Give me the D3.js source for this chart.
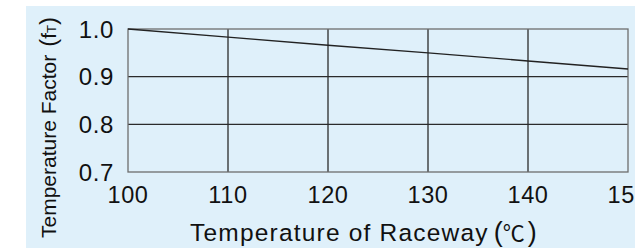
<!DOCTYPE html>
<html>
<head>
<meta charset="utf-8">
<script src="https://cdn.jsdelivr.net/npm/d3@7"></script>
<style>
  html, body { margin: 0; padding: 0; background: #fff; }
  svg { display: block; }
</style>
</head>
<body>
<svg id="chart" width="635" height="248"></svg>
<script>
// data
var temps = [100, 110, 120, 130, 140, 150];
var factors = [1.0, 0.983, 0.966, 0.950, 0.933, 0.916];
var xTicks = [100, 110, 120, 130, 140, 150];
var yTicks = [0.7, 0.8, 0.9, 1.0];
var yTickLabels = ["0.7", "0.8", "0.9", "1.0"];

var svg = d3.select("#chart"),
    width = +svg.attr("width"),
    height = +svg.attr("height"),
    plotLeft = 128, plotRight = 628, plotTop = 29, plotBottom = 172,
    font = "'Liberation Sans', Arial, Helvetica, sans-serif";

var x = d3.scaleLinear().domain([100, 150]).range([plotLeft, plotRight]);
var y = d3.scaleLinear().domain([0.7, 1.0]).range([plotBottom, plotTop]);

// light blue panel
svg.append("rect")
    .attr("x", 26).attr("y", 6)
    .attr("width", width - 26).attr("height", height - 6)
    .attr("fill", "#dff0fa");

// grid lines
svg.append("g").selectAll("line")
    .data(xTicks.slice(1, -1))
    .enter().append("line")
    .attr("x1", function (d) { return x(d); })
    .attr("x2", function (d) { return x(d); })
    .attr("y1", plotTop).attr("y2", plotBottom)
    .attr("stroke", "#2b2b2b").attr("stroke-width", 1.3);

svg.append("g").selectAll("line")
    .data(yTicks.slice(1, -1))
    .enter().append("line")
    .attr("y1", function (d) { return y(d); })
    .attr("y2", function (d) { return y(d); })
    .attr("x1", plotLeft).attr("x2", plotRight)
    .attr("stroke", "#2b2b2b").attr("stroke-width", 1.3);

// frame
svg.append("rect")
    .attr("x", plotLeft).attr("y", plotTop)
    .attr("width", plotRight - plotLeft).attr("height", plotBottom - plotTop)
    .attr("fill", "none")
    .attr("stroke", "#6e6e6e").attr("stroke-width", 1.3);

// the curve
var line = d3.line()
    .x(function (d, i) { return x(temps[i]); })
    .y(function (d) { return y(d); });

svg.append("path")
    .datum(factors)
    .attr("d", line)
    .attr("fill", "none")
    .attr("stroke", "#222")
    .attr("stroke-width", 1.4);

// tick labels
svg.append("g").selectAll("text")
    .data(xTicks)
    .enter().append("text")
    .attr("x", function (d) { return x(d); })
    .attr("y", 203)
    .attr("text-anchor", "middle")
    .style("font-family", font).style("font-size", "23.5px")
    .style("letter-spacing", "0.6px")
    .attr("fill", "#111")
    .text(function (d) { return d; });

svg.append("g").selectAll("text")
    .data(yTicks)
    .enter().append("text")
    .attr("x", 114)
    .attr("y", function (d) { return y(d) + 8.5; })
    .attr("text-anchor", "end")
    .style("font-family", font).style("font-size", "24px")
    .style("letter-spacing", "0.6px")
    .attr("fill", "#111")
    .text(function (d, i) { return yTickLabels[i]; });

// x axis title
var xt = svg.append("text")
    .attr("x", 190).attr("y", 241)
    .style("font-family", font).style("font-size", "24.5px")
    .style("letter-spacing", "1.2px")
    .attr("fill", "#111");
xt.append("tspan").text("Temperature of Raceway");
xt.append("tspan").attr("dx", 5).style("font-size", "27px").style("letter-spacing", "0px").text("(");
xt.append("tspan").style("font-family", "'Noto Sans CJK JP', sans-serif").style("font-size", "22px")
    .style("letter-spacing", "0px").text("℃");
xt.append("tspan").attr("dx", 3).style("font-size", "27px").style("letter-spacing", "0px").text(")");

// y axis title, rotated
var yt = svg.append("text")
    .attr("transform", "translate(56,238) rotate(-90)")
    .style("font-family", font).style("font-size", "21px")
    .attr("fill", "#111");
yt.append("tspan").text("Temperature Factor");
yt.append("tspan").attr("dx", 8).style("font-size", "24px").text("(");
yt.append("tspan").style("font-size", "21px").text("f");
yt.append("tspan").style("font-size", "13px").text("T");
yt.append("tspan").style("font-size", "24px").text(")");
</script>
</body>
</html>
